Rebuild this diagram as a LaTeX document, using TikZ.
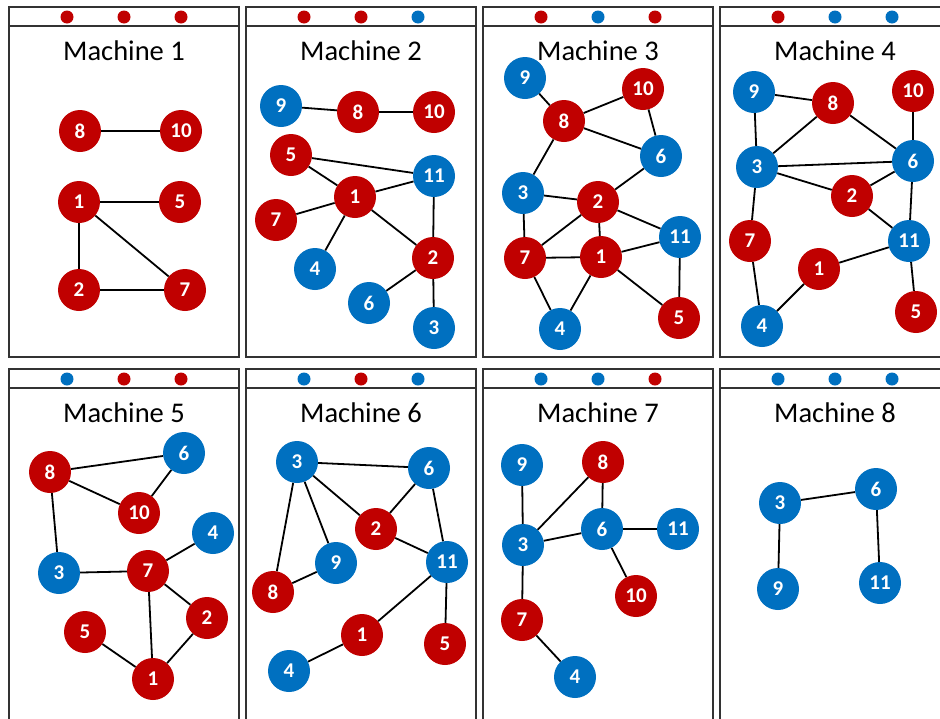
\documentclass[tikz,border=0pt]{standalone}
\usepackage{fontspec}
\setmainfont{Carlito}
\definecolor{mred}{HTML}{C00000}
\definecolor{mblue}{HTML}{0070C0}
\tikzset{
    vtx/.style={circle, minimum size=42pt, inner sep=0pt, text=white, font=\fontsize{21}{21}\selectfont\bfseries},
    link/.style={line width=1.8pt},
    panel/.style={draw=black!80, line width=1.8pt},
    hdot/.style={circle, minimum size=13pt, inner sep=0pt}
}
\newcommand{\machine}[7]{%
    \draw[panel] (#2,#3) rectangle ++(230,#4);
    \draw[panel] (#2,#3+19) -- ++(230,0);
    \node[hdot, fill=#5] (m#1a) at (#2+58,#3+10) {};
    \node[hdot, fill=#6] (m#1b) at (#2+115,#3+10) {};
    \node[hdot, fill=#7] (m#1c) at (#2+172,#3+10) {};
    \node[font=\fontsize{28.5}{30}\selectfont] (m#1title) at (#2+115,#3+44) {Machine #1};
}

\begin{document}
\begin{tikzpicture}[x=1pt, y=-1pt]
    \clip (0,0) rectangle (940,718);
    \fill[white] (0,0) rectangle (940,718);

    \machine{1}{9}{7}{350}{mred}{mred}{mred}
    \machine{2}{246}{7}{350}{mred}{mred}{mblue}
    \machine{3}{483}{7}{350}{mred}{mblue}{mred}
    \machine{4}{720}{7}{350}{mred}{mblue}{mblue}
    \machine{5}{9}{369}{370}{mblue}{mred}{mred}
    \machine{6}{246}{369}{370}{mblue}{mred}{mblue}
    \machine{7}{483}{369}{370}{mblue}{mblue}{mred}
    \machine{8}{720}{369}{370}{mblue}{mblue}{mblue}

    \foreach \n/\x/\y/\c in {8/80/131/mred, 10/181/131/mred, 1/79/202/mred, 5/180/202/mred, 2/79/290/mred, 7/185/290/mred}
        \node[vtx, fill=\c] (p1-\n) at (\x,\y) {\n};
    \foreach \a/\b in {8/10, 1/5, 1/2, 1/7, 2/7}
        \draw[link] (p1-\a) -- (p1-\b);

    \foreach \n/\x/\y/\c in {9/281/106/mblue, 8/358/112/mred, 10/434/112/mred, 5/291/155/mred, 11/434/176/mblue, 1/355/197/mred, 7/276/220/mred, 2/433/258/mred, 4/315/269/mblue, 6/369/303/mblue, 3/434/328/mblue}
        \node[vtx, fill=\c] (p2-\n) at (\x,\y) {\n};
    \foreach \a/\b in {9/8, 8/10, 5/11, 5/1, 1/11, 7/1, 1/4, 1/2, 11/2, 2/6, 2/3}
        \draw[link] (p2-\a) -- (p2-\b);

    \foreach \n/\x/\y/\c in {9/525/78/mblue, 10/643/89/mred, 8/564/121/mred, 6/661/156/mblue, 3/523/193/mblue, 2/598/202/mred, 11/680/237/mblue, 7/525/258/mred, 1/601/257/mred, 5/679/318/mred, 4/560/329/mblue}
        \node[vtx, fill=\c] (p3-\n) at (\x,\y) {\n};
    \foreach \a/\b in {9/8, 8/10, 10/6, 8/6, 8/3, 3/2, 2/6, 3/7, 7/2, 2/1, 2/11, 7/1, 1/11, 1/5, 11/5, 7/4, 1/4}
        \draw[link] (p3-\a) -- (p3-\b);

    \foreach \n/\x/\y/\c in {9/754/92/mblue, 8/833/103/mred, 10/913/91/mred, 3/757/167/mblue, 6/913/161/mblue, 2/852/196/mred, 7/750/241/mred, 11/909/241/mblue, 1/819/269/mred, 5/916/312/mred, 4/762/326/mblue}
        \node[vtx, fill=\c] (p4-\n) at (\x,\y) {\n};
    \foreach \a/\b in {9/8, 9/3, 8/3, 8/6, 10/6, 3/6, 3/2, 2/6, 2/11, 6/11, 3/7, 7/4, 4/1, 1/11, 11/5}
        \draw[link] (p4-\a) -- (p4-\b);

    \foreach \n/\x/\y/\c in {6/184/453/mblue, 8/50/472/mred, 10/139/513/mred, 4/213/533/mblue, 3/59/573/mblue, 7/148/571/mred, 2/207/618/mred, 5/85/632/mred, 1/153/679/mred}
        \node[vtx, fill=\c] (p5-\n) at (\x,\y) {\n};
    \foreach \a/\b in {8/6, 8/10, 10/6, 8/3, 3/7, 7/4, 7/2, 7/1, 2/1, 5/1}
        \draw[link] (p5-\a) -- (p5-\b);

    \foreach \n/\x/\y/\c in {3/297/462/mblue, 6/429/468/mblue, 2/376/529/mred, 9/336/563/mblue, 11/447/562/mblue, 8/273/592/mred, 1/362/635/mred, 5/445/644/mred, 4/289/671/mblue}
        \node[vtx, fill=\c] (p6-\n) at (\x,\y) {\n};
    \foreach \a/\b in {3/6, 3/2, 3/9, 3/8, 6/2, 6/11, 2/11, 9/8, 11/1, 1/4, 11/5}
        \draw[link] (p6-\a) -- (p6-\b);

    \foreach \n/\x/\y/\c in {9/522/465/mblue, 8/603/462/mred, 3/523/545/mblue, 6/602/529/mblue, 11/678/529/mblue, 10/636/596/mred, 7/522/620/mred, 4/575/677/mblue}
        \node[vtx, fill=\c] (p7-\n) at (\x,\y) {\n};
    \foreach \a/\b in {9/3, 3/8, 8/6, 3/6, 6/11, 6/10, 3/7, 7/4}
        \draw[link] (p7-\a) -- (p7-\b);

    \foreach \n/\x/\y/\c in {3/780/503/mblue, 6/876/489/mblue, 9/778/589/mblue, 11/880/583/mblue}
        \node[vtx, fill=\c] (p8-\n) at (\x,\y) {\n};
    \foreach \a/\b in {3/6, 3/9, 6/11}
        \draw[link] (p8-\a) -- (p8-\b);
\end{tikzpicture}
\end{document}
